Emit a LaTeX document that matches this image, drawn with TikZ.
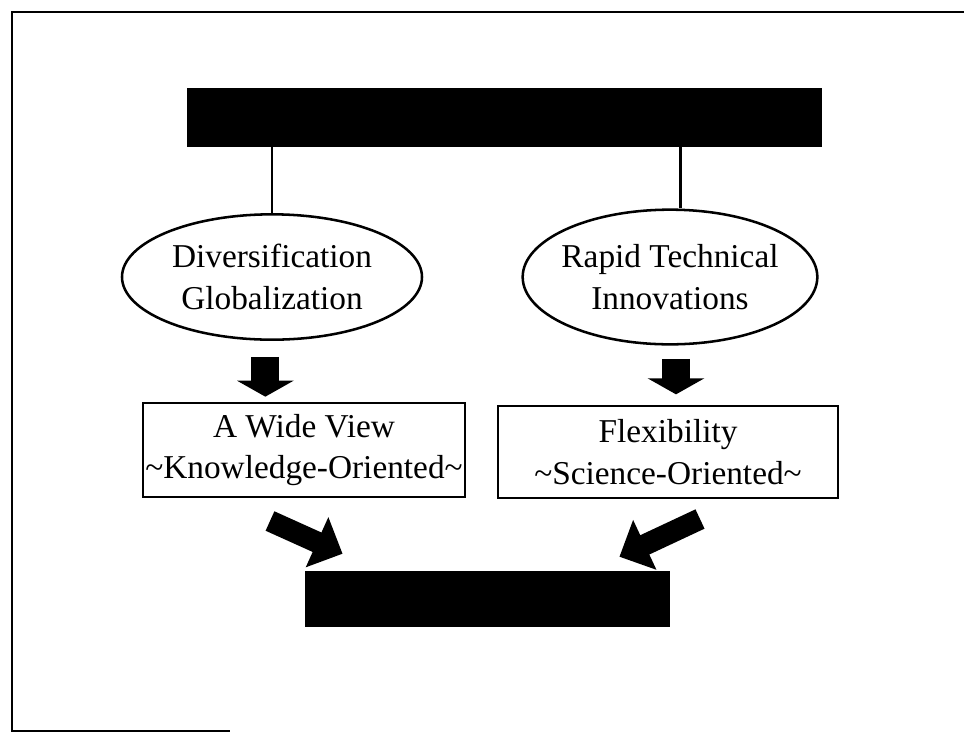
\documentclass[tikz,border=0pt]{standalone}
\usepackage{fontspec}
\setmainfont{Liberation Serif}
\usetikzlibrary{arrows.meta,shapes.geometric}

\begin{document}
\begin{tikzpicture}[x=0.75pt, y=-0.75pt, every node/.style={font=\fontsize{25}{31}\selectfont, align=center}, redacted/.style={fill=black, inner sep=0pt}, oval/.style={draw, ellipse, line width=1.9pt, inner sep=0pt, inner xsep=-12pt}, textbox/.style={draw, line width=1.5pt, inner sep=0pt}, link/.style={line width=2.2pt}, blockarr/.style={line width=21pt, -{Triangle[length=12pt, width=42pt]}}, slantarr/.style={line width=16pt, -{Triangle[length=21pt, width=40pt]}}]
\useasboundingbox (0,0) rectangle (964,733);
% open frame of the scan
\draw[line width=2.2pt] (964,12) -- (12,12) -- (12,731) -- (230,731);
\node[redacted, minimum width=476pt, minimum height=44pt] (head) at (504.5,117.5) {};
\node[oval, minimum width=225pt, minimum height=94pt] (glob) at (272,277) {Diversification\\Globalization};
\node[oval, minimum width=221pt, minimum height=101pt] (tech) at (670,277) {Rapid Technical\\Innovations};
\node[textbox, minimum width=241.5pt, minimum height=70.5pt] (wide) at (304,450) {A Wide View\\\textasciitilde Knowledge-Oriented\textasciitilde};
\node[textbox, minimum width=255pt, minimum height=69pt] (flex) at (668,452) {Flexibility\\\textasciitilde Science-Oriented\textasciitilde};
\node[redacted, minimum width=274pt, minimum height=42pt] (goal) at (487.5,599) {};
\draw[link] (glob.north) -- (glob.north |- head.south);
\draw[link] ([xshift=8pt]tech.north) -- ([xshift=8pt]tech.north |- head.south);
\draw[blockarr, shorten <=12pt, shorten >=4pt] ([xshift=-5pt]glob.south) -- ([xshift=-5pt]glob.south |- wide.north);
\draw[blockarr, shorten <=10pt, shorten >=8pt] ([xshift=4.5pt]tech.south) -- ([xshift=4.5pt]tech.south |- flex.north);
\draw[slantarr] ([shift={(-34,23)}]wide.south) -- ([shift={(38,-17)}]goal.north west);
\draw[slantarr] ([shift={(32,20)}]flex.south) -- ([shift={(-51,-14)}]goal.north east);
\end{tikzpicture}
\end{document}
